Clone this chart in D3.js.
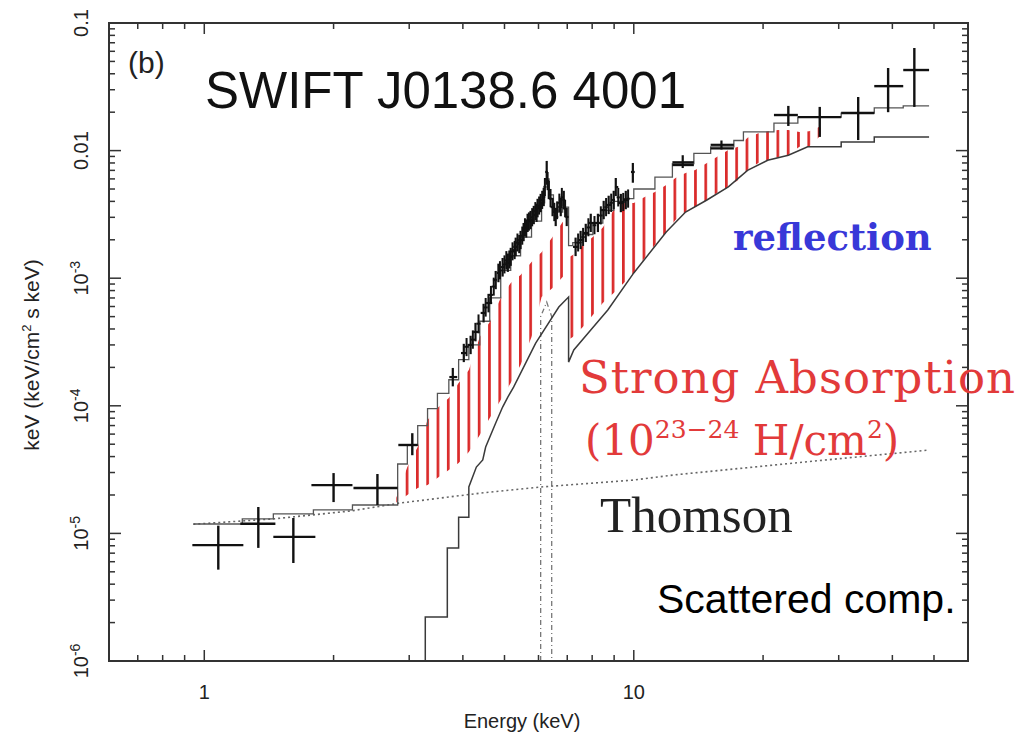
<!DOCTYPE html>
<html><head><meta charset="utf-8">
<script src="https://cdn.jsdelivr.net/npm/d3@7"></script>
<style>body{margin:0;background:#fff}svg{display:block}</style>
</head><body>
<svg id="c" width="1021" height="739"></svg>
<script>
// ---------------- data ----------------
// hatched "strong absorption" band (energy keV, lower & upper flux)
const hatchE  = [2.80,2.97,3.14,3.31,3.49,3.71,3.91,4.13,4.38,4.62,4.90,5.17,5.45,5.78,6.10,6.47,6.83,7.05,7.05,7.21,7.61,8.03,8.47,8.98,9.48,10.0,10.6,11.2,11.9,12.5,13.2,13.9,14.8,15.6,16.6,17.5,18.4,19.5,20.5,21.7,22.9,24.3,25.6,27.0,27.5];
const hatchHi = [1.9e-5,3.31e-5,4.75e-5,7.74e-5,9.6e-5,1.15e-4,1.51e-4,1.91e-4,3.46e-4,4.54e-4,7.0e-4,9.17e-4,1.06e-3,1.34e-3,1.60e-3,2.10e-3,2.76e-3,2.9e-3,1.45e-3,1.52e-3,1.82e-3,2.10e-3,2.50e-3,3.42e-3,3.88e-3,3.88e-3,4.33e-3,4.74e-3,5.38e-3,6.10e-3,6.67e-3,7.05e-3,8.0e-3,8.91e-3,1.01e-2,1.07e-2,1.26e-2,1.37e-2,1.42e-2,1.45e-2,1.45e-2,1.40e-2,1.42e-2,1.53e-2,1.5e-2];
const hatchLo = [1.75e-5,2.0e-5,2.27e-5,2.39e-5,2.72e-5,3.14e-5,3.56e-5,4.35e-5,5.9e-5,8.02e-5,1.11e-4,1.51e-4,2.09e-4,3.46e-4,7.12e-4,8.38e-4,1.02e-3,1.16e-3,3.3e-4,3.46e-4,4.15e-4,5.15e-4,6.39e-4,7.66e-4,9.17e-4,1.10e-3,1.44e-3,1.82e-3,2.30e-3,2.86e-3,3.30e-3,3.61e-3,4.10e-3,4.65e-3,5.18e-3,5.88e-3,7.05e-3,8.0e-3,8.44e-3,8.9e-3,9.24e-3,1.07e-2,1.07e-2,1.28e-2,1.4e-2];

// total model (step, bin lower edges)
const modelE = [0.943,1.226,1.448,1.795,2.213,2.82,2.97,3.14,3.31,3.49,3.71,3.91,4.13,4.38,4.62,4.90,5.17,5.45,5.78,6.10,6.2,6.35,6.5,6.83,7.05,7.21,7.61,8.03,8.47,8.98,9.48,10.0,11.2,12.3,13.8,15.1,17.1,18.0,21.2,24.1,30.4,36.3,42.4,48.7];
const modelF = [1.185e-5,1.30e-5,1.42e-5,1.53e-5,1.67e-5,3.5e-5,4.9e-5,7.0e-5,9.5e-5,1.25e-4,1.6e-4,2.3e-4,3.0e-4,4.6e-4,7.0e-4,1.15e-3,1.5e-3,2.1e-3,2.8e-3,3.9e-3,6.0e-3,4.5e-3,3.3e-3,3.6e-3,1.8e-3,1.9e-3,2.2e-3,2.7e-3,3.4e-3,4.0e-3,4.2e-3,5.0e-3,6.2e-3,7.9e-3,9.5e-3,1.07e-2,1.2e-2,1.40e-2,1.64e-2,1.83e-2,1.97e-2,2.16e-2,2.24e-2,2.24e-2];

// transmitted (absorbed) component
const transE = [3.27,3.27,3.68,3.68,3.91,3.91,4.13,4.13,4.30,4.45,4.52,4.77,4.95,5.09,5.25,5.91,6.69,7.05,7.05,7.25,7.94,8.70,10.0,11.9,13.2,14.8,16.6,18.4,20.5,22.9,25.4,30.4,30.4,36.3,36.3,48.7];
const transF = [1e-6,2.21e-6,2.21e-6,7.68e-6,7.68e-6,1.34e-5,1.34e-5,2.31e-5,3.31e-5,3.76e-5,4.75e-5,7.33e-5,9.78e-5,1.17e-4,1.40e-4,3.1e-4,5.94e-4,7.12e-4,2.20e-4,2.74e-4,3.93e-4,5.63e-4,1.10e-3,2.3e-3,3.3e-3,4.1e-3,5.2e-3,7.0e-3,8.4e-3,9.2e-3,1.07e-2,1.07e-2,1.17e-2,1.17e-2,1.28e-2,1.28e-2];

// scattered (Thomson) component
const scatE = [0.943,1.45,2.2,2.82,4.4,6.07,10,12.4,23.6,48.7];
const scatF = [1.18e-5,1.30e-5,1.5e-5,1.72e-5,2.07e-5,2.31e-5,2.62e-5,2.87e-5,3.56e-5,4.5e-5];

// iron line gaussian
const gaussE = [6.07,6.07,6.27,6.44,6.44];
const gaussF = [1e-6,5.0e-4,6.5e-4,5.0e-4,1e-6];

// large data crosses (soft X-ray and hard X-ray)
const bigE   = [1.078,1.336,1.612,2.0,2.53,3.05,22.9,27.1,33.3,39.1,45.0];
const bigElo = [0.938,1.213,1.448,1.776,2.225,2.83,21.2,24.1,30.4,36.3,42.4];
const bigEhi = [1.233,1.464,1.814,2.213,2.82,3.14,24.1,30.4,36.3,42.4,48.7];
const bigF   = [8.1e-6,1.19e-5,9.4e-6,2.39e-5,2.27e-5,4.93e-5,0.019,0.0183,0.0197,0.032,0.0428];
const bigFlo = [5.2e-6,7.7e-6,5.86e-6,1.76e-5,1.67e-5,4.1e-5,0.0156,0.0128,0.0121,0.020,0.022];
const bigFhi = [1.15e-5,1.61e-5,1.32e-5,2.97e-5,2.92e-5,6.1e-5,0.0224,0.022,0.0263,0.0444,0.0637];

// fine data crosses (set 1)
const finE   = [3.79,4.02,4.17,4.28,4.47,4.59,4.77,4.84,4.95,5.09,5.17,5.31,5.45,5.54,5.66,5.75,5.85,5.97,6.07,6.17,6.27,6.34,6.47,6.58,6.76,6.87,6.98,7.32,7.52,7.73,7.94,8.25,8.51,8.74,8.98,9.08,9.33,9.58,9.95,13.0,13.0,16.0,16.0];
const finElo = [3.72,3.96,4.10,4.23,4.40,4.53,4.70,4.80,4.90,5.02,5.13,5.24,5.38,5.50,5.60,5.70,5.80,5.91,6.02,6.12,6.22,6.31,6.40,6.52,6.67,6.82,6.93,7.22,7.42,7.62,7.84,8.09,8.38,8.62,8.90,9.04,9.20,9.45,9.85,12.3,12.3,15.1,15.1];
const finEhi = [3.88,4.09,4.23,4.37,4.53,4.68,4.80,4.90,5.02,5.13,5.24,5.38,5.50,5.60,5.70,5.80,5.91,6.02,6.12,6.22,6.31,6.40,6.52,6.67,6.82,6.93,7.05,7.42,7.62,7.84,8.09,8.38,8.62,8.86,9.04,9.20,9.45,9.75,10.05,13.8,13.8,17.1,17.1];
const finF   = [1.68e-4,2.59e-4,3.0e-4,3.79e-4,5.34e-4,6.39e-4,9.68e-4,1.10e-3,1.22e-3,1.32e-3,1.47e-3,1.76e-3,1.99e-3,2.30e-3,2.71e-3,2.86e-3,3.13e-3,3.55e-3,3.88e-3,4.33e-3,6.8e-3,4.91e-3,3.61e-3,3.02e-3,3.61e-3,4.10e-3,3.02e-3,1.76e-3,1.99e-3,2.26e-3,2.71e-3,2.71e-3,3.42e-3,3.75e-3,4.10e-3,5.18e-3,3.88e-3,4.10e-3,6.8e-3,8.1e-3,7.7e-3,1.11e-2,1.04e-2];
const finFlo = [1.42e-4,2.2e-4,2.54e-4,3.2e-4,4.5e-4,5.4e-4,8.2e-4,9.3e-4,1.03e-3,1.12e-3,1.25e-3,1.49e-3,1.69e-3,1.95e-3,2.3e-3,2.42e-3,2.65e-3,3.0e-3,3.29e-3,3.67e-3,5.4e-3,4.16e-3,3.06e-3,2.56e-3,3.06e-3,3.47e-3,2.56e-3,1.49e-3,1.69e-3,1.92e-3,2.3e-3,2.3e-3,2.9e-3,3.18e-3,3.47e-3,4.4e-3,3.29e-3,3.47e-3,5.6e-3,7.3e-3,7.6e-3,1.02e-2,1.03e-2];
const finFhi = [1.98e-4,3.06e-4,3.54e-4,4.47e-4,6.3e-4,7.54e-4,1.14e-3,1.30e-3,1.44e-3,1.56e-3,1.73e-3,2.08e-3,2.35e-3,2.71e-3,3.2e-3,3.37e-3,3.69e-3,4.19e-3,4.58e-3,5.11e-3,8.3e-3,5.79e-3,4.26e-3,3.56e-3,4.26e-3,4.84e-3,3.56e-3,2.08e-3,2.35e-3,2.67e-3,3.2e-3,3.2e-3,4.04e-3,4.43e-3,4.84e-3,6.1e-3,4.58e-3,4.84e-3,8.0e-3,9.2e-3,7.8e-3,1.2e-2,1.05e-2];

// fine data crosses (set 2, interleaved bins)
const fin2E   = [4.08,4.22,4.35,4.52,4.65,4.72,4.88,5.00,5.05,5.13,5.22,5.28,5.36,5.41,5.50,5.58,5.62,5.70,5.80,5.90,5.94,6.02,6.12,6.21,6.30,6.40,6.53,6.63,6.71,6.80,6.92,7.42,7.62,7.84,8.10,8.38,8.62,8.86,9.20,9.45,9.70];
const fin2Elo = [4.03,4.17,4.30,4.47,4.60,4.67,4.83,4.95,5.00,5.08,5.17,5.23,5.31,5.36,5.45,5.53,5.57,5.65,5.75,5.85,5.89,5.97,6.07,6.16,6.25,6.35,6.48,6.58,6.66,6.75,6.87,7.35,7.55,7.77,8.02,8.30,8.54,8.78,9.12,9.37,9.62];
const fin2Ehi = [4.13,4.27,4.40,4.57,4.70,4.77,4.93,5.05,5.10,5.18,5.27,5.33,5.41,5.46,5.55,5.63,5.67,5.75,5.85,5.95,5.99,6.07,6.17,6.26,6.35,6.45,6.58,6.68,6.76,6.85,6.97,7.49,7.69,7.91,8.18,8.46,8.70,8.94,9.28,9.53,9.78];
const fin2F   = [2.9e-4,3.3e-4,4.4e-4,5.9e-4,7.4e-4,8.6e-4,1.15e-3,1.28e-3,1.38e-3,1.40e-3,1.62e-3,1.66e-3,1.90e-3,1.85e-3,2.15e-3,2.50e-3,2.45e-3,2.78e-3,3.00e-3,3.35e-3,3.25e-3,3.70e-3,4.10e-3,5.2e-3,5.8e-3,4.2e-3,3.3e-3,3.4e-3,3.9e-3,4.3e-3,3.5e-3,1.9e-3,2.1e-3,2.5e-3,2.6e-3,3.1e-3,3.6e-3,3.9e-3,4.3e-3,3.95e-3,4.2e-3];
const fin2Flo = [2.45e-4,2.8e-4,3.7e-4,5.0e-4,6.3e-4,7.3e-4,9.8e-4,1.09e-3,1.17e-3,1.19e-3,1.38e-3,1.41e-3,1.62e-3,1.57e-3,1.83e-3,2.13e-3,2.08e-3,2.36e-3,2.55e-3,2.85e-3,2.76e-3,3.15e-3,3.49e-3,4.4e-3,4.9e-3,3.6e-3,2.8e-3,2.9e-3,3.3e-3,3.65e-3,3.0e-3,1.62e-3,1.79e-3,2.13e-3,2.21e-3,2.64e-3,3.06e-3,3.3e-3,3.65e-3,3.36e-3,3.57e-3];
const fin2Fhi = [3.4e-4,3.9e-4,5.2e-4,7.0e-4,8.7e-4,1.01e-3,1.36e-3,1.51e-3,1.63e-3,1.65e-3,1.91e-3,1.96e-3,2.24e-3,2.18e-3,2.54e-3,2.95e-3,2.89e-3,3.28e-3,3.54e-3,3.95e-3,3.84e-3,4.37e-3,4.84e-3,6.1e-3,6.8e-3,5.0e-3,3.9e-3,4.0e-3,4.6e-3,5.1e-3,4.1e-3,2.24e-3,2.48e-3,2.95e-3,3.07e-3,3.66e-3,4.25e-3,4.6e-3,5.1e-3,4.66e-3,4.96e-3];

const yMajor = [1e-6,1e-5,1e-4,1e-3,0.01,0.1];
const yMajorBase = ["10","10","10","10","0.01","0.1"];
const yMajorExp  = ["-6","-5","-4","-3","",""];
const xLabelVals = [1,10];
const xLabelText = ["1","10"];

// ---------------- drawing ----------------
const svg = d3.select('#c');
const L=109,R=968,T=23,B=661;
const x = d3.scaleLog().domain([0.6,60]).range([L,R]);
const y = d3.scaleLog().domain([1e-6,0.1]).range([B,T]);

const defs = svg.append('defs');
defs.append('clipPath').attr('id','clip').append('rect').attr('x',L).attr('y',T).attr('width',R-L).attr('height',B-T);
const pat = defs.append('pattern').attr('id','hatch').attr('patternUnits','userSpaceOnUse')
  .attr('width',10.3).attr('height',20).attr('x',405.7).attr('y',0);
pat.append('rect').attr('x',0).attr('y',0).attr('width',2.7).attr('height',20).attr('fill','#da2a2a');

const plot = svg.append('g').attr('clip-path','url(#clip)');

// hatched region
const hatchData = hatchE.map((e,i)=>({e,lo:hatchLo[i],hi:hatchHi[i]}));
plot.append('path').datum(hatchData)
  .attr('d', d3.area().x(d=>x(d.e)).y0(d=>y(d.lo)).y1(d=>y(d.hi)))
  .attr('fill','url(#hatch)');

// gaussian line
plot.append('path').datum(gaussE.map((e,i)=>[e,gaussF[i]]))
  .attr('d', d3.line().x(d=>x(d[0])).y(d=>y(d[1])))
  .attr('fill','none').attr('stroke','#777').attr('stroke-width',1.3).attr('stroke-dasharray','5,3,1,3');

// scattered comp
plot.append('path').datum(scatE.map((e,i)=>[e,scatF[i]]))
  .attr('d', d3.line().x(d=>x(d[0])).y(d=>y(d[1])))
  .attr('fill','none').attr('stroke','#666').attr('stroke-width',1.6).attr('stroke-dasharray','2,3');

// transmitted
plot.append('path').datum(transE.map((e,i)=>[e,transF[i]]))
  .attr('d', d3.line().x(d=>x(d[0])).y(d=>y(d[1])))
  .attr('fill','none').attr('stroke','#3a3a3a').attr('stroke-width',1.5);

// total model
plot.append('path').datum(modelE.map((e,i)=>[e,modelF[i]]))
  .attr('d', d3.line().curve(d3.curveStepAfter).x(d=>x(d[0])).y(d=>y(d[1])))
  .attr('fill','none').attr('stroke','#555').attr('stroke-width',1.3);

// data crosses
function crosses(E,Elo,Ehi,F,Flo,Fhi,w){
  const g = plot.append('g').attr('stroke','#111').attr('stroke-width',w);
  E.forEach((e,i)=>{
    g.append('line').attr('x1',x(Elo[i])).attr('x2',x(Ehi[i])).attr('y1',y(F[i])).attr('y2',y(F[i]));
    g.append('line').attr('x1',x(e)).attr('x2',x(e)).attr('y1',y(Flo[i])).attr('y2',y(Fhi[i]));
  });
}
crosses(fin2E,fin2Elo,fin2Ehi,fin2F,fin2Flo,fin2Fhi,2.0);
crosses(finE,finElo,finEhi,finF,finFlo,finFhi,2.2);
crosses(bigE,bigElo,bigEhi,bigF,bigFlo,bigFhi,2.4);

// frame and ticks
const ax = svg.append('g').attr('stroke','#333').attr('stroke-width',2);
ax.append('rect').attr('x',L).attr('y',T).attr('width',R-L).attr('height',B-T).attr('fill','none');
const isMajor = v => Math.abs(Math.log10(v)-Math.round(Math.log10(v)))<1e-9;
x.ticks().forEach(t=>{
  const px = x(t); if (px<=L+1 || px>=R-1) return;
  const len = isMajor(t)?11:6;
  ax.append('line').attr('x1',px).attr('x2',px).attr('y1',B).attr('y2',B-len).attr('stroke-width',1.5);
  ax.append('line').attr('x1',px).attr('x2',px).attr('y1',T).attr('y2',T+len).attr('stroke-width',1.5);
});
y.ticks().forEach(t=>{
  const py = y(t); if (py<=T+1 || py>=B-1) return;
  const len = isMajor(t)?12:6;
  ax.append('line').attr('y1',py).attr('y2',py).attr('x1',L).attr('x2',L+len).attr('stroke-width',1.5);
  ax.append('line').attr('y1',py).attr('y2',py).attr('x1',R).attr('x2',R-len).attr('stroke-width',1.5);
});

// tick labels
const fontSans = "'Liberation Sans', Arial, sans-serif";
xLabelVals.forEach((v,i)=>{
  svg.append('text').attr('x',x(v)).attr('y',699).attr('text-anchor','middle')
    .attr('font-family',fontSans).attr('font-size',20).attr('fill','#222').text(xLabelText[i]);
});
yMajor.forEach((v,i)=>{
  const t = svg.append('text').attr('transform',`translate(88,${y(v)}) rotate(-90)`)
    .attr('text-anchor','middle').attr('font-family',fontSans).attr('font-size',20).attr('fill','#222');
  t.append('tspan').text(yMajorBase[i]);
  if (yMajorExp[i]) t.append('tspan').attr('dy',-8).attr('font-size',14).text(yMajorExp[i]);
});

// axis titles
svg.append('text').attr('x',522).attr('y',728).attr('text-anchor','middle')
  .attr('font-family',fontSans).attr('font-size',20).attr('fill','#222').text('Energy (keV)');
const yt = svg.append('text').attr('transform','translate(39,355) rotate(-90)').attr('text-anchor','middle')
  .attr('font-family',fontSans).attr('font-size',21).attr('fill','#222');
yt.append('tspan').text('keV (keV/cm');
yt.append('tspan').attr('dy',-8).attr('font-size',13).text('2');
yt.append('tspan').attr('dy',8).text(' s keV)');

// annotations
svg.append('text').attr('x',128).attr('y',73).attr('font-family',fontSans).attr('font-size',30).attr('fill','#222').text('(b)');
svg.append('text').attr('x',205).attr('y',108).attr('font-family',fontSans).attr('font-size',51).attr('fill','#111').text('SWIFT J0138.6 4001');
svg.append('text').attr('x',733).attr('y',250).attr('font-family',"'DejaVu Serif', serif").attr('font-weight','bold')
  .attr('font-size',37).attr('fill','#3838d8').text('reflection');
svg.append('text').attr('x',579).attr('y',393).attr('font-family',"'DejaVu Serif', serif")
  .attr('font-size',45).attr('letter-spacing',1).attr('fill','#e23a3a').text('Strong Absorption');
const l2 = svg.append('text').attr('x',585).attr('y',455).attr('font-family',"'DejaVu Serif', serif")
  .attr('font-size',42).attr('fill','#e23a3a');
l2.append('tspan').text('(10');
l2.append('tspan').attr('dy',-17).attr('font-size',25).text('23−24');
l2.append('tspan').attr('dy',17).text(' H/cm');
l2.append('tspan').attr('dy',-17).attr('font-size',25).text('2');
l2.append('tspan').attr('dy',17).text(')');
svg.append('text').attr('x',600).attr('y',532).attr('font-family',"'Liberation Serif', 'Times New Roman', serif")
  .attr('font-size',51).attr('fill','#222').text('Thomson');
svg.append('text').attr('x',657).attr('y',613).attr('font-family',fontSans)
  .attr('font-size',41).attr('fill','#000').text('Scattered comp.');
</script>
</body></html>
